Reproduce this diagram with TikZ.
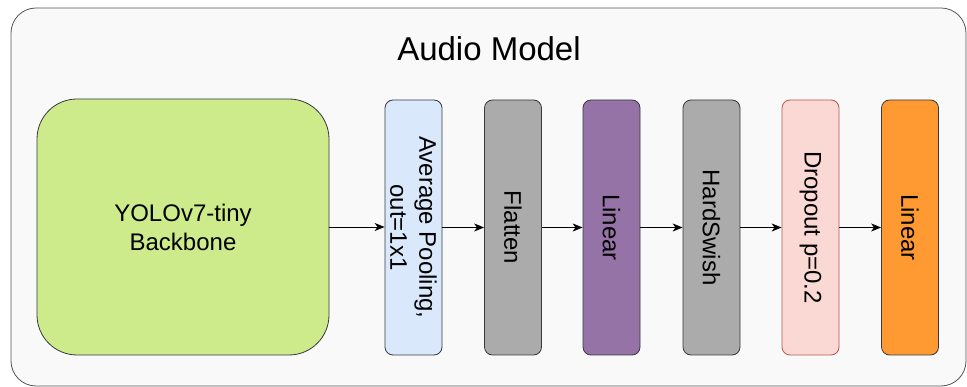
\documentclass[tikz,border=0pt]{standalone}
\usepackage{fontspec}
\setmainfont{Liberation Sans}
\usetikzlibrary{arrows.meta}
\definecolor{outerfill}{HTML}{F9F9F9}
\definecolor{outerdraw}{HTML}{555555}
\definecolor{bbfill}{HTML}{CDEB8B}
\definecolor{bbdraw}{HTML}{36393D}
\definecolor{avgfill}{HTML}{DAE8FC}
\definecolor{grayfill}{HTML}{ABABAB}
\definecolor{purplefill}{HTML}{9673A6}
\definecolor{dropfill}{HTML}{FAD9D5}
\definecolor{dropdraw}{HTML}{B85450}
\definecolor{orangefill}{HTML}{FF9A33}
\begin{document}
\begin{tikzpicture}[x=1pt,y=-1pt,
  layer/.style={draw=bbdraw, line width=0.8pt, rounded corners=8pt, minimum width=57pt, minimum height=255pt, inner sep=0pt},
  vlabel/.style={rotate=-90, align=center, font=\fontsize{24}{29}\selectfont, inner sep=0pt},
  conn/.style={-{Stealth[length=10pt,width=8pt,inset=3pt]}, line width=0.8pt, black}]
\useasboundingbox (0,0) rectangle (967,387);
\node[draw=outerdraw, fill=outerfill, line width=0.8pt, rounded corners=25pt, minimum width=955pt, minimum height=378pt, inner sep=0pt] (outer) at (488.5,197) {};
\node[font=\fontsize{33}{38}\selectfont, anchor=base] (title) at (489,61) {Audio Model};
\node[draw=bbdraw, fill=bbfill, line width=0.8pt, rounded corners=40pt, minimum width=292pt, minimum height=256pt, inner sep=0pt, align=center, font=\fontsize{24}{29}\selectfont] (bb) at (183,227) {YOLOv7-tiny\\Backbone};
\node[layer, fill=avgfill] (avg) at (413.5,227.5) {};
\node[vlabel] (avgt) at (avg.center) {Average Pooling,\\out=1x1};
\node[layer, fill=grayfill] (flat) at (513,227.5) {};
\node[vlabel] (flatt) at (flat.center) {Flatten};
\node[layer, fill=purplefill] (lin1) at (611.5,227.5) {};
\node[vlabel] (lin1t) at (lin1.center) {Linear};
\node[layer, fill=grayfill] (hs) at (711.5,227.5) {};
\node[vlabel] (hst) at (hs.center) {HardSwish};
\node[layer, fill=dropfill, draw=dropdraw] (drop) at (810.5,227.5) {};
\node[vlabel] (dropt) at (drop.center) {Dropout p=0.2};
\node[layer, fill=orangefill] (lin2) at (910,227.5) {};
\node[vlabel] (lin2t) at (lin2.center) {Linear};
\draw[conn] (bb.east) -- (bb.east -| avg.west);
\draw[conn] (avg.east) -- (flat.west);
\draw[conn] (flat.east) -- (lin1.west);
\draw[conn] (lin1.east) -- (hs.west);
\draw[conn] (hs.east) -- (drop.west);
\draw[conn] (drop.east) -- (lin2.west);
\end{tikzpicture}
\end{document}
